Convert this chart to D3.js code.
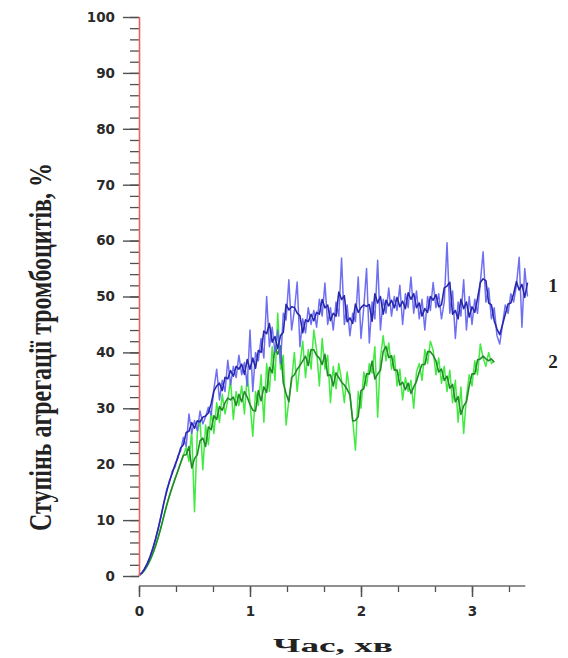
<!DOCTYPE html>
<html>
<head>
<meta charset="utf-8">
<script src="https://cdn.jsdelivr.net/npm/d3@7/dist/d3.min.js"></script>
<style>
  html, body { margin: 0; padding: 0; background: #fff; }
  svg { display: block; }
</style>
</head>
<body>
<svg id="chart" width="568" height="658"></svg>
<script>
// Time step of the recorded aggregation curves, min
const timeStep = 0.025;

// Curve 1 (blue): degree of platelet aggregation, %
const series1 = [
  0, 0.5, 1.2, 2.2, 3.4, 4.9, 6.6, 8.6, 10.8, 13.2,
  15.5, 16.8, 18.8, 19.5, 21.5, 22.4, 24.8, 23.2, 29, 25.5,
  27.8, 26, 29.5, 27.2, 28.5, 30.2, 28.8, 33.5, 37, 31.5,
  35, 33, 38.6, 34.2, 37.5, 35.5, 39.5, 36, 38.2, 34,
  44, 33, 40, 38.5, 42.5, 39, 50, 41, 44.5, 40,
  44, 38, 47, 45.8, 53, 44, 47.5, 52.6, 41, 46,
  43.5, 48, 45, 47.5, 44.5, 49.5, 46.5, 52.4, 45, 48,
  44, 49, 46.5, 56.9, 45, 48.5, 43, 47, 45.5, 53.5,
  42.5, 48, 55, 41.7, 49, 46, 56.5, 44, 49.5, 47,
  51.5, 46.5, 50, 47.5, 52, 45, 50.5, 48, 53.5, 47,
  51, 46, 49.5, 44, 50, 47.5, 52.5, 48, 50.5, 46,
  49, 59.6, 47, 51, 42.5, 49, 46.5, 53, 44, 50,
  45, 49.5, 47, 52.5, 58, 49, 51.5, 46, 48, 43,
  41.5, 45, 48.5, 47, 50.5, 49, 52, 57, 44.5, 55,
  50
];

// Curve 2 (green): degree of platelet aggregation, %
const series2 = [
  0, 0.4, 1.0, 1.8, 2.8, 4.0, 5.4, 7.0, 8.8, 10.8,
  12.8, 14.4, 16.0, 17.4, 18.8, 20.2, 21.6, 23, 20.5, 26,
  11.5, 25.5, 28, 19, 27, 23.5, 29.5, 25.5, 31, 27.5,
  32.5, 29, 31.5, 35, 28, 33, 30.5, 34, 29, 36,
  31, 25, 33, 30.5, 36, 27.5, 38, 33, 41, 35,
  47, 37, 39.5, 27, 31.5, 35, 40, 33, 38, 42,
  35.5, 40.5, 37, 44, 40.4, 34, 42.5, 37, 39.5, 31,
  37.5, 33.5, 38, 35, 31, 36.5, 32.7, 28, 22.5, 33,
  30, 36.5, 34, 38, 36.3, 41, 28.4, 39, 43, 38.5,
  41.7, 37, 39.5, 34, 37, 31.5, 35.5, 33, 35, 30,
  36.5, 38, 35, 40.5, 38, 42, 40.4, 36, 39, 34.5,
  37.5, 33, 36.8, 31, 35, 27.5, 33.8, 25.5, 32, 36,
  34, 38.5, 36, 41.5, 39, 37.5, 40, 38, 38.5
];

const seriesLabels = ["1", "2"];
const yTicks = [0, 10, 20, 30, 40, 50, 60, 70, 80, 90, 100];
const xTicks = [0, 1, 2, 3];
const xTitle = "Час, хв";
const yTitle = "Ступінь агрегації тромбоцитів, %";

const svg = d3.select("#chart");

const x = d3.scaleLinear().domain([0, 3.5]).range([139, 527.5]);
const y = d3.scaleLinear().domain([0, 100]).range([576, 17]);
const xAxisY = 586;

const toPoints = arr => arr.map((v, i) => [i * timeStep, v]);

// centred running mean, drawn as the darker trace through the noise
function runningMean(arr, half) {
  return arr.map((v, i) => {
    const lo = Math.max(0, i - half), hi = Math.min(arr.length - 1, i + half);
    return [i * timeStep, d3.mean(arr.slice(lo, hi + 1))];
  });
}

const line = d3.line().x(d => x(d[0])).y(d => y(d[1]));

const plot = svg.append("g");

// green curve (2)
plot.append("path").attr("d", line(toPoints(series2)))
  .attr("fill", "none").attr("stroke", "#42ea42").attr("stroke-width", 1.5)
  .attr("stroke-linejoin", "round");
plot.append("path").attr("d", line(runningMean(series2, 1)))
  .attr("fill", "none").attr("stroke", "#24882a").attr("stroke-width", 1.6)
  .attr("stroke-linejoin", "round");

// blue curve (1)
plot.append("path").attr("d", line(toPoints(series1)))
  .attr("fill", "none").attr("stroke", "#6363f0").attr("stroke-width", 1.5)
  .attr("stroke-opacity", 0.92).attr("stroke-linejoin", "round");
plot.append("path").attr("d", line(runningMean(series1, 1)))
  .attr("fill", "none").attr("stroke", "#2828ac").attr("stroke-width", 1.6)
  .attr("stroke-linejoin", "round");

const tickFont = sel => sel
  .attr("fill", "#2a2a2a")
  .style("font-family", "'DejaVu Sans', sans-serif")
  .style("font-weight", "bold")
  .style("font-size", "13.5px");

// Y axis: ticks on the left, red axis line
const yAxis = svg.append("g").attr("transform", "translate(139,0)");
yAxis.append("g")
  .call(d3.axisLeft(y).tickValues(d3.range(0, 101, 2)).tickSize(9).tickFormat(""))
  .call(g => g.select(".domain").remove())
  .call(g => g.selectAll(".tick line").attr("stroke", "#505050").attr("stroke-width", 1.3));
yAxis.append("g")
  .call(d3.axisLeft(y).tickValues(yTicks).tickSize(16).tickPadding(8))
  .call(g => g.select(".domain").remove())
  .call(g => g.selectAll(".tick line").attr("stroke", "#505050").attr("stroke-width", 1.4))
  .call(g => g.selectAll(".tick text").call(tickFont));
yAxis.append("line").attr("x1", 0.5).attr("x2", 0.5)
  .attr("y1", y(100)).attr("y2", y(0))
  .attr("stroke", "#ee6060").attr("stroke-width", 1.6);

// X axis: ticks below, gray axis line
const xAxis = svg.append("g").attr("transform", `translate(0,${xAxisY})`);
xAxis.append("g")
  .call(d3.axisBottom(x).tickValues(d3.range(0, 3.45, 1 / 3)).tickSize(6).tickFormat(""))
  .call(g => g.select(".domain").remove())
  .call(g => g.selectAll(".tick line").attr("stroke", "#505050").attr("stroke-width", 1.3));
xAxis.append("g")
  .call(d3.axisBottom(x).tickValues(xTicks).tickSize(11).tickPadding(9).tickFormat(d3.format("d")))
  .call(g => g.select(".domain").remove())
  .call(g => g.selectAll(".tick line").attr("stroke", "#505050").attr("stroke-width", 1.5))
  .call(g => g.selectAll(".tick text").attr("dy", "0.75em").call(tickFont));
xAxis.append("line").attr("x1", x(0)).attr("x2", x(3.48))
  .attr("y1", 0).attr("y2", 0)
  .attr("stroke", "#6a6a6a").attr("stroke-width", 1.6);

// serif bold text, stretched to a given length
function stretchedText(parent, str, size, targetLen, thick) {
  const t = parent.append("text")
    .attr("text-anchor", "middle")
    .attr("fill", "#222")
    .style("font-family", "'Liberation Serif', 'Times New Roman', serif")
    .style("font-weight", "bold")
    .style("font-size", size + "px")
    .text(str);
  const len = t.node().getComputedTextLength();
  t.attr("transform", `scale(${targetLen / len},${thick})`);
  return t;
}

// axis titles
const xt = svg.append("g").attr("transform", "translate(333,652)");
stretchedText(xt, xTitle, 18, 120, 1);

const yt = svg.append("g").attr("transform", "translate(51,347) rotate(-90)");
stretchedText(yt, yTitle, 22, 368, 1.42);

// curve labels at the right end of each curve
const labelY = [285, 361];
seriesLabels.forEach((s, i) => {
  svg.append("text")
    .attr("x", 553).attr("y", labelY[i])
    .attr("dy", "0.35em")
    .attr("text-anchor", "middle")
    .attr("fill", "#222")
    .style("font-family", "'Liberation Serif', 'Times New Roman', serif")
    .style("font-weight", "bold")
    .style("font-size", "19px")
    .text(s);
});
</script>
</body>
</html>
